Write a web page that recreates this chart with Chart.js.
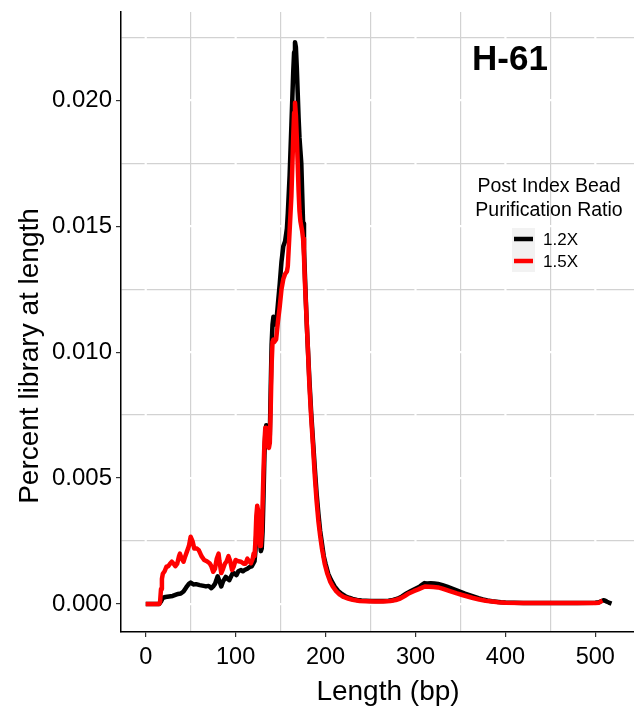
<!DOCTYPE html>
<html><head><meta charset="utf-8">
<script src="https://cdn.jsdelivr.net/npm/chart.js@4/dist/chart.umd.min.js"></script>
<style>html,body{margin:0;padding:0;background:#fff}#wrap{width:634px;height:710px}</style>
</head><body><div id="wrap"><canvas id="c" width="634" height="710"></canvas></div>
<script>
const chartTitle = "H-61";
const legendTitle = ["Post Index Bead", "Purification Ratio"];
const seriesNames = ["1.2X", "1.5X"];
const seriesColors = ["#000000", "#ff0000"];
const xTickValues = [0, 50, 100, 150, 200, 250, 300, 350, 400, 450, 500];
const yTickValues = [0, 0.0025, 0.005, 0.0075, 0.01, 0.0125, 0.015, 0.0175, 0.02, 0.0225];
const xTitle = "Length (bp)";
const yTitle = "Percent library at length";

const len12 = [0,5,10,15,17,19,22,26,30,33,36,39,42,45,48,50,53,56,60,63,67,70,73,75,77,80,82,84,86,89,91,93,95,97,99,101,103,106,108,110,113,116,118,121,122,123,124,125,126,127,128,129,130,131,132,133,134,135,136,137,138,139,140,141,142,143,144,145,147,149,151,153,155,157,158,160,162,164,165,166,167,168,169,170,171,172,173,174,175,176,177,178,179,180,182,184,186,188,190,192,194,196,198,200,203,206,210,214,218,222,226,230,235,240,245,250,260,270,275,280,285,290,295,300,305,308,310,313,317,321,325,330,335,340,345,350,355,360,365,370,375,380,385,390,395,400,410,420,440,460,480,500,504,507,509,511,513,515,518];
const pct12 = [0,0,0,0,0.0001,0.00025,0.00028,0.0003,0.00032,0.00036,0.0004,0.00042,0.0005,0.00066,0.0008,0.00085,0.00078,0.00079,0.00075,0.00073,0.0007,0.00072,0.00063,0.0007,0.0008,0.0011,0.0009,0.0007,0.0009,0.00108,0.001,0.00095,0.0011,0.00124,0.0012,0.00115,0.0013,0.00135,0.0013,0.00135,0.0014,0.00148,0.0015,0.0017,0.0021,0.0028,0.0034,0.0036,0.0032,0.0025,0.0021,0.0022,0.0029,0.0043,0.0059,0.0068,0.0071,0.0069,0.0065,0.0064,0.0067,0.0086,0.0103,0.0111,0.0114,0.0113,0.0111,0.0111,0.0119,0.0127,0.0136,0.0142,0.0144,0.0149,0.0155,0.0170,0.0190,0.0211,0.0219,0.0223,0.0221,0.0213,0.0203,0.0193,0.0185,0.0180,0.0175,0.0163,0.0151,0.0141,0.0131,0.0121,0.0112,0.0104,0.0089,0.0076,0.0065,0.0054,0.0044,0.0036,0.0029,0.0024,0.0019,0.0016,0.0012,0.00096,0.0007,0.00052,0.0004,0.00031,0.00025,0.0002,0.00016,0.00014,0.00013,0.00012,0.00012,0.00013,0.00016,0.00021,0.0003,0.00042,0.00052,0.00061,0.0007,0.00078,0.00083,0.00082,0.00083,0.00082,0.0008,0.00075,0.00069,0.00062,0.00055,0.00048,0.00041,0.00035,0.00029,0.00023,0.00018,0.00014,0.00011,0.00009,0.00007,0.00006,0.00005,0.00004,0.00004,0.00004,0.00004,0.00005,0.00007,0.00012,0.00015,0.00013,0.00009,0.00006,0.00002];

const len15 = [0,5,10,15,16,17,18,19,21,23,25,27,29,31,33,35,37,38,40,42,44,46,48,50,52,54,57,59,62,65,68,71,73,75,77,79,81,82,84,86,88,90,92,94,96,98,100,103,106,109,111,113,115,117,119,120,121,122,123,124,125,126,127,128,129,130,131,132,133,134,135,136,137,138,139,140,141,142,143,145,147,149,151,153,155,157,158,160,162,164,165,166,167,168,169,170,171,172,173,174,175,176,177,178,179,180,182,184,186,188,190,192,194,196,199,202,205,208,212,216,220,225,230,238,245,255,264,272,278,283,288,293,298,303,308,311,315,320,325,330,335,340,346,352,358,364,371,378,385,392,400,420,450,480,500,504,506,508];
const pct15 = [0,0,0,0,0.0001,0.0006,0.0010,0.0012,0.0013,0.00148,0.0015,0.0016,0.00168,0.0016,0.0015,0.0016,0.0019,0.0020,0.0018,0.00168,0.0019,0.0021,0.0023,0.00267,0.0025,0.0022,0.0022,0.00214,0.0019,0.00175,0.0017,0.00162,0.0015,0.00128,0.0014,0.0018,0.0020,0.0017,0.00123,0.0014,0.0016,0.0017,0.0019,0.0017,0.00135,0.0015,0.00175,0.0017,0.00168,0.0016,0.0016,0.0018,0.0017,0.00162,0.0018,0.0020,0.0019,0.0025,0.0035,0.0039,0.0037,0.0029,0.0023,0.0023,0.0028,0.0040,0.0053,0.0064,0.0070,0.0070,0.0066,0.0063,0.0062,0.0064,0.0078,0.0095,0.0104,0.0105,0.0104,0.0105,0.0112,0.0118,0.0125,0.0129,0.0131,0.0132,0.0134,0.0148,0.0162,0.0185,0.0195,0.0199,0.0194,0.0185,0.0175,0.0164,0.0156,0.0152,0.0150,0.0148,0.0145,0.0138,0.0128,0.0120,0.0112,0.0104,0.0087,0.0074,0.0063,0.0051,0.0041,0.0033,0.0027,0.0022,0.0016,0.0012,0.0009,0.0007,0.0005,0.00037,0.00028,0.00022,0.00017,0.00012,0.00011,0.0001,0.0001,0.00012,0.00016,0.00022,0.00032,0.00043,0.00051,0.00058,0.00066,0.0007,0.00069,0.00068,0.00066,0.00061,0.00055,0.00049,0.00042,0.00036,0.0003,0.00024,0.00018,0.00013,0.0001,0.00007,0.00005,0.00004,0.00004,0.00004,0.00004,0.00005,0.0001,0.00013];

const FONT = '"Liberation Sans", Arial, Helvetica, sans-serif';
const isMajorX = v => Math.abs(v % 100) < 1e-9;
const isMajorY = v => Math.round(v / 0.0025) % 2 === 0;

const overlay = {
  id: 'overlay',
  beforeDatasetsDraw(chart) {
    const {ctx, chartArea: a, scales: {x, y}} = chart;
    ctx.save();
    ctx.strokeStyle = '#ffffff';
    ctx.lineWidth = 2.2;
    xTickValues.filter(isMajorX).forEach(v => {
      const px = x.getPixelForValue(v);
      ctx.beginPath(); ctx.moveTo(px, a.top); ctx.lineTo(px, a.bottom - 1); ctx.stroke();
    });
    yTickValues.filter(isMajorY).forEach(v => {
      const py = y.getPixelForValue(v);
      ctx.beginPath(); ctx.moveTo(a.left + 1, py); ctx.lineTo(a.right, py); ctx.stroke();
    });
    ctx.restore();
  },
  afterDraw(chart) {
    const {ctx} = chart;
    ctx.save();
    ctx.fillStyle = '#000';
    // axis titles
    ctx.font = '28px ' + FONT;
    ctx.textAlign = 'center'; ctx.textBaseline = 'middle';
    ctx.fillText(xTitle, 388, 692);
    ctx.save();
    ctx.translate(30, 356); ctx.rotate(-Math.PI / 2);
    ctx.fillText(yTitle, 0, 0);
    ctx.restore();
    // panel title
    ctx.font = 'bold 35px ' + FONT;
    ctx.textAlign = 'center'; ctx.textBaseline = 'alphabetic';
    ctx.fillText(chartTitle, 510, 70);
    // legend
    ctx.font = '19.5px ' + FONT;
    ctx.textBaseline = 'middle';
    ctx.fillText(legendTitle[0], 549, 187);
    ctx.fillText(legendTitle[1], 549, 211);
    chart.data.datasets.forEach((ds, i) => {
      const cy = 239 + i * 22;
      ctx.fillStyle = '#f2f2f2';
      ctx.fillRect(512, cy - 11, 23, 22);
      ctx.strokeStyle = ds.borderColor; ctx.lineWidth = 4.5;
      ctx.beginPath(); ctx.moveTo(514, cy); ctx.lineTo(533, cy); ctx.stroke();
      ctx.fillStyle = '#000';
      ctx.font = '17px ' + FONT; ctx.textAlign = 'left';
      ctx.fillText(ds.label, 543, cy + 1);
    });
    ctx.restore();
  }
};

new Chart(document.getElementById('c'), {
  type: 'line',
  data: {
    datasets: [
      { label: seriesNames[0], data: len12.map((v, i) => ({x: v, y: pct12[i]})), borderColor: seriesColors[0], borderWidth: 4.5, pointRadius: 0, tension: 0, order: 1, borderJoinStyle: 'round' },
      { label: seriesNames[1], data: len15.map((v, i) => ({x: v, y: pct15[i]})), borderColor: seriesColors[1], borderWidth: 4.5, pointRadius: 0, tension: 0, order: 0, borderJoinStyle: 'round' }
    ]
  },
  options: {
    responsive: false,
    animation: false,
    devicePixelRatio: 1,
    layout: { padding: { top: 12, right: 0, left: 0, bottom: 0 } },
    plugins: { legend: { display: false }, tooltip: { enabled: false } },
    scales: {
      x: {
        type: 'linear', min: -27.5, max: 543,
        afterBuildTicks: s => { s.ticks = xTickValues.map(v => ({value: v})); },
        afterFit: s => { s.height = 78; s.paddingLeft = 0; s.paddingRight = 0; },
        grid: {
          color: c => isMajorX(c.tick.value) ? 'rgba(0,0,0,0)' : '#d2d2d2',
          lineWidth: 1.2,
          tickColor: c => isMajorX(c.tick.value) ? '#333' : 'rgba(0,0,0,0)',
          tickLength: 5, tickWidth: 1.2
        },
        border: { color: '#000', width: 1.5 },
        ticks: {
          autoSkip: false, maxRotation: 0, padding: 6, color: '#000',
          font: { family: FONT, size: 23.5 },
          callback: v => isMajorX(v) ? String(v) : ''
        }
      },
      y: {
        type: 'linear', min: -0.00111, max: 0.0235,
        afterBuildTicks: s => { s.ticks = yTickValues.map(v => ({value: v})); },
        afterFit: s => { s.width = 121; s.paddingTop = 0; s.paddingBottom = 0; },
        grid: {
          color: c => isMajorY(c.tick.value) ? 'rgba(0,0,0,0)' : '#d2d2d2',
          lineWidth: 1.2,
          tickColor: c => isMajorY(c.tick.value) ? '#333' : 'rgba(0,0,0,0)',
          tickLength: 5, tickWidth: 1.2
        },
        border: { color: '#000', width: 1.5 },
        ticks: {
          autoSkip: false, padding: 4, color: '#000',
          font: { family: FONT, size: 24 },
          callback: v => isMajorY(v) ? v.toFixed(3) : ''
        }
      }
    }
  },
  plugins: [overlay]
});
</script>
</body></html>
